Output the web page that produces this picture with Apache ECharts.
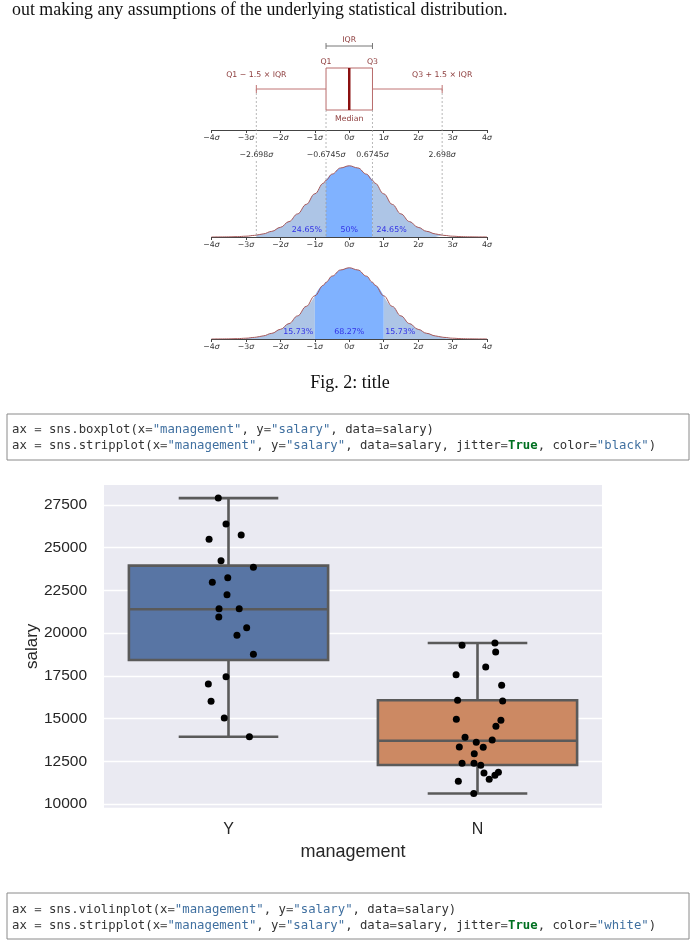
<!DOCTYPE html>
<html>
<head>
<meta charset="utf-8">
<script src="https://cdn.jsdelivr.net/npm/echarts@6/dist/echarts.min.js"></script>
<style>
  html, body { margin: 0; padding: 0; background: #fff; }
  #chart { width: 693px; height: 950px; }
</style>
</head>
<body>
<div id="chart"></div>
<script>
// ---- page text ----
var topText = 'out making any assumptions of the underlying statistical distribution.';
var captionText = 'Fig. 2: title';
var code1 = [
  'ax {o|=} sns.boxplot(x{o|=}{s|"management"}, y{o|=}{s|"salary"}, data{o|=}salary)',
  'ax {o|=} sns.stripplot(x{o|=}{s|"management"}, y{o|=}{s|"salary"}, data{o|=}salary, jitter{o|=}{k|True}, color{o|=}{s|"black"})'
];
var code2 = [
  'ax {o|=} sns.violinplot(x{o|=}{s|"management"}, y{o|=}{s|"salary"}, data{o|=}salary)',
  'ax {o|=} sns.stripplot(x{o|=}{s|"management"}, y{o|=}{s|"salary"}, data{o|=}salary, jitter{o|=}{k|True}, color{o|=}{s|"white"})'
];

// ---- schematic (x in sigma) ----
// whisker low, Q1, median, Q3, whisker high
var sigmaBox = [-2.698, -0.6745, 0, 0.6745, 2.698];
var guideLabels = ['\u22122.698', '\u22120.6745', '0.6745', '2.698'];
// bell curve
var curveX = [-4, -3.75, -3.5, -3.25, -3, -2.75, -2.698, -2.5, -2.25, -2, -1.75, -1.5, -1.25, -1, -0.75, -0.6745, -0.5, -0.25,
  0, 0.25, 0.5, 0.6745, 0.75, 1, 1.25, 1.5, 1.75, 2, 2.25, 2.5, 2.698, 2.75, 3, 3.25, 3.5, 3.75, 4];
var curveY = [0.0001, 0.0004, 0.0009, 0.0020, 0.0044, 0.0091, 0.0105, 0.0175, 0.0317, 0.0540, 0.0863, 0.1295, 0.1826, 0.2420, 0.3011, 0.3178, 0.3521, 0.3867,
  0.3989, 0.3867, 0.3521, 0.3178, 0.3011, 0.2420, 0.1826, 0.1295, 0.0863, 0.0540, 0.0317, 0.0175, 0.0105, 0.0091, 0.0044, 0.0020, 0.0009, 0.0004, 0.0001];
var band2Outer = [-2.698, 2.698], band2Inner = [-0.6745, 0.6745];
var band3Outer = [-3, 3], band3Inner = [-1, 1];
var pct2 = ['24.65%', '50%', '24.65%'], pct2X = [-1.23, 0, 1.23];
var pct3 = ['15.73%', '68.27%', '15.73%'], pct3X = [-1.48, 0, 1.48];

// ---- salary box plot ----
var categories = ['Y', 'N'];
// min, q1, median, q3, max
var boxY = [13939, 18428, 21395, 23947, 27900];
var boxN = [10610, 12283, 13705, 16069, 19420];
var yTicks = [10000, 12500, 15000, 17500, 20000, 22500, 25000, 27500];
var salaryY = [27900, 26388, 25492, 25744, 24240, 23853, 23245, 22975, 22250, 21430, 21430, 20945, 20318, 19873, 18761, 17451, 17023, 16011, 15033, 13939];
var jitterY = [-0.041, -0.010, -0.078, 0.051, -0.030, 0.100, -0.003, -0.065, -0.006, -0.038, 0.043, -0.039, 0.073, 0.034, 0.100, -0.010, -0.081, -0.070, -0.017, 0.084];
var salaryN = [19288, 19420, 18896, 18018, 17568, 16947, 16069, 16028, 14957, 14899, 14548, 13904, 13746, 13611, 13336, 13318, 12944, 12382, 12382, 12265, 11814, 11855, 11680, 11446, 11329, 10610];
var jitterN = [-0.062, 0.070, 0.073, 0.033, -0.086, 0.097, -0.080, 0.101, -0.085, 0.094, 0.074, -0.050, 0.059, -0.005, -0.073, 0.023, -0.013, -0.062, -0.014, 0.013, 0.026, 0.084, 0.070, 0.047, -0.077, -0.015];

var RED = '#8c3b3b';
var SMALL = 'DejaVu Sans';
var SANS = 'Liberation Sans';

function sigmaAxis(gi) {
  return {
    type: 'value', gridIndex: gi, min: -4, max: 4, interval: 1,
    axisLine: { show: true, onZero: false, lineStyle: { color: '#444', width: 1 } },
    axisTick: { show: true, length: 3, lineStyle: { color: '#444' } },
    splitLine: { show: false },
    axisLabel: {
      margin: 4, fontSize: 7.8, fontFamily: SMALL, color: '#333',
      formatter: function (v) { return (v < 0 ? '\u2212' : '') + Math.abs(v) + '{s|σ}'; },
      rich: { s: { fontStyle: 'italic', fontSize: 7.8, fontFamily: SMALL, color: '#333' } }
    }
  };
}

function pick(lo, hi) {
  var out = [];
  for (var i = 0; i < curveX.length; i++) {
    if (curveX[i] >= lo - 1e-9 && curveX[i] <= hi + 1e-9) out.push([curveX[i], curveY[i]]);
  }
  return out;
}
function areaSeries(idx, lo, hi, color) {
  return {
    type: 'line', xAxisIndex: idx, yAxisIndex: idx, data: pick(lo, hi),
    smooth: 0.4, smoothMonotone: 'x', symbol: 'none', silent: true,
    lineStyle: { width: 0 }, areaStyle: { color: color, opacity: 1 }, z: 1
  };
}
function outlineSeries(idx) {
  return {
    type: 'line', xAxisIndex: idx, yAxisIndex: idx, data: pick(-4, 4),
    smooth: 0.4, smoothMonotone: 'x', symbol: 'none', silent: true,
    lineStyle: { width: 1, color: '#a5585a' }, z: 3
  };
}
function txt(x, y, text, opt) {
  opt = opt || {};
  var col = opt.color || RED, size = opt.size || 7.8;
  return {
    type: 'text',
    style: {
      x: x, y: y, text: text,
      fill: col, fontSize: size, fontFamily: SMALL,
      align: 'center', verticalAlign: 'middle', textAlign: 'center', textVerticalAlign: 'middle',
      backgroundColor: opt.bg, padding: opt.bg ? [0, 1] : 0,
      rich: { s: { fontStyle: 'italic', fontSize: size, fontFamily: SMALL, fill: col } }
    }
  };
}
function pctSeries(idx, labels, xs) {
  return {
    type: 'custom', xAxisIndex: idx, yAxisIndex: idx, silent: true, z: 5,
    data: xs.map(function (x, i) { return [x, 0, i]; }),
    encode: { x: 0, y: 1 },
    renderItem: function (params, api) {
      var p = api.coord([api.value(0), 0]);
      return txt(p[0], p[1] - 7.5, labels[api.value(2)], { color: '#2f2fe6', size: 7.9 });
    }
  };
}
function codeBlock(top, lines, first) {
  var mono = 'DejaVu Sans Mono', fs = 12.3;
  var rich = {
    s: { fill: '#4070a0', fontFamily: mono, fontSize: fs },
    k: { fill: '#007020', fontWeight: 'bold', fontFamily: mono, fontSize: fs },
    o: { fill: '#666666', fontFamily: mono, fontSize: fs }
  };
  return {
    type: 'group', x: 7, y: top,
    children: [
      { type: 'rect', shape: { x: 0, y: 0, width: 682, height: 46 }, style: { fill: '#fff', stroke: '#8a8a8a', lineWidth: 1 } },
      { type: 'text', x: 5, y: first, style: { text: lines[0], fontFamily: mono, fontSize: fs, fill: '#333', verticalAlign: 'middle', rich: rich } },
      { type: 'text', x: 5, y: first + 16, style: { text: lines[1], fontFamily: mono, fontSize: fs, fill: '#333', verticalAlign: 'middle', rich: rich } }
    ]
  };
}

var chart = echarts.init(document.getElementById('chart'));

chart.setOption({
  animation: false,
  backgroundColor: '#fff',
  grid: [
    { left: 211.5, right: 206, top: 48, height: 82 },
    { left: 211.5, right: 206, top: 162, height: 75 },
    { left: 211.5, right: 206, top: 264, height: 75 },
    { left: 104, width: 498, top: 485, bottom: 142.3, show: true, backgroundColor: '#eaeaf2', borderWidth: 0 }
  ],
  xAxis: [
    sigmaAxis(0), sigmaAxis(1), sigmaAxis(2),
    {
      type: 'category', gridIndex: 3, data: categories,
      axisLine: { show: false }, axisTick: { show: false },
      axisLabel: { fontSize: 16, fontFamily: SANS, color: '#262626', margin: 14 },
      name: 'management', nameLocation: 'middle', nameGap: 35,
      nameTextStyle: { fontSize: 18, fontFamily: SANS, color: '#262626' }
    },
    { type: 'value', gridIndex: 3, min: -0.5, max: 1.5, show: false }
  ],
  yAxis: [
    { type: 'category', gridIndex: 0, data: ['box'], show: false },
    { type: 'value', gridIndex: 1, min: 0, max: 0.42, show: false },
    { type: 'value', gridIndex: 2, min: 0, max: 0.42, show: false },
    {
      type: 'value', gridIndex: 3, min: 9783, max: 28666,
      axisLine: { show: false },
      axisTick: { show: false, customValues: yTicks },
      axisLabel: {
        customValues: yTicks, fontSize: 15.5, fontFamily: SANS, color: '#262626', margin: 17,
        formatter: function (v) { return String(v); }
      },
      splitLine: { show: true, lineStyle: { color: '#ffffff', width: 1.3 } },
      name: 'salary', nameLocation: 'middle', nameGap: 63, nameRotate: 90, nameMoveOverlap: false,
      nameTextStyle: { fontSize: 17, fontFamily: SANS, color: '#262626' }
    }
  ],
  series: [
    // schematic box with guides
    {
      type: 'custom', xAxisIndex: 0, yAxisIndex: 0, silent: true, z: 4,
      data: [[0].concat(sigmaBox)],
      encode: { y: 0, x: [1, 2, 3, 4, 5] },
      renderItem: function (params, api) {
        var yc = api.coord([0, 0])[1];
        var xs = [1, 2, 3, 4, 5].map(function (d) { return api.coord([api.value(d), 0])[0]; });
        var h = 21;
        var wl = { stroke: '#c07474', lineWidth: 1 };
        var guide = { stroke: '#9a9a9a', lineWidth: 0.7, lineDash: [2, 2] };
        var ch = [
          { type: 'line', shape: { x1: xs[0], y1: yc, x2: xs[0], y2: yc + 148 }, style: guide },
          { type: 'line', shape: { x1: xs[4], y1: yc, x2: xs[4], y2: yc + 148 }, style: guide },
          { type: 'line', shape: { x1: xs[1], y1: yc + h, x2: xs[1], y2: yc + 148 }, style: guide },
          { type: 'line', shape: { x1: xs[3], y1: yc + h, x2: xs[3], y2: yc + 148 }, style: guide },
          { type: 'line', shape: { x1: xs[0], y1: yc, x2: xs[1], y2: yc }, style: wl },
          { type: 'line', shape: { x1: xs[3], y1: yc, x2: xs[4], y2: yc }, style: wl },
          { type: 'line', shape: { x1: xs[0], y1: yc - 4, x2: xs[0], y2: yc + 4 }, style: wl },
          { type: 'line', shape: { x1: xs[4], y1: yc - 4, x2: xs[4], y2: yc + 4 }, style: wl },
          { type: 'rect', shape: { x: xs[1], y: yc - h, width: xs[3] - xs[1], height: 2 * h }, style: { fill: '#fff', stroke: '#b86a6a', lineWidth: 1 } },
          { type: 'line', shape: { x1: xs[2], y1: yc - h, x2: xs[2], y2: yc + h }, style: { stroke: '#8b1010', lineWidth: 2.5 } },
          // IQR bracket
          { type: 'line', shape: { x1: xs[1], y1: yc - 43, x2: xs[3], y2: yc - 43 }, style: { stroke: '#777', lineWidth: 1 } },
          { type: 'line', shape: { x1: xs[1], y1: yc - 46, x2: xs[1], y2: yc - 40 }, style: { stroke: '#777', lineWidth: 1 } },
          { type: 'line', shape: { x1: xs[3], y1: yc - 46, x2: xs[3], y2: yc - 40 }, style: { stroke: '#777', lineWidth: 1 } },
          txt(xs[2], yc - 49, 'IQR'),
          txt(xs[1], yc - 27, 'Q1'),
          txt(xs[3], yc - 27, 'Q3'),
          txt(xs[0], yc - 14, 'Q1 \u2212 1.5 \u00d7 IQR'),
          txt(xs[4], yc - 14, 'Q3 + 1.5 \u00d7 IQR'),
          txt(xs[2], yc + 30, 'Median')
        ];
        [0, 1, 3, 4].forEach(function (d, i) {
          ch.push(txt(xs[d], yc + 66, guideLabels[i] + '{s|σ}', { color: '#333', bg: '#fff' }));
        });
        return { type: 'group', children: ch };
      }
    },
    areaSeries(1, band2Outer[0], band2Inner[0], '#adc5e6'),
    areaSeries(1, band2Inner[1], band2Outer[1], '#adc5e6'),
    areaSeries(1, band2Inner[0], band2Inner[1], '#80b2ff'),
    outlineSeries(1),
    pctSeries(1, pct2, pct2X),
    areaSeries(2, band3Outer[0], band3Inner[0], '#adc5e6'),
    areaSeries(2, band3Inner[1], band3Outer[1], '#adc5e6'),
    areaSeries(2, band3Inner[0], band3Inner[1], '#80b2ff'),
    outlineSeries(2),
    pctSeries(2, pct3, pct3X),
    // salary boxes
    {
      type: 'custom', xAxisIndex: 3, yAxisIndex: 3, silent: true, z: 2,
      data: [[0].concat(boxY), [1].concat(boxN)],
      encode: { x: 0, y: [1, 2, 3, 4, 5] },
      renderItem: function (params, api) {
        var c = api.value(0);
        var x = api.coord([c, 0])[0];
        var ys = [1, 2, 3, 4, 5].map(function (d) { return api.coord([c, api.value(d)])[1]; });
        var band = api.size([1, 0])[0];
        var hb = band * 0.4, hc = hb * 0.5;
        var edge = { stroke: '#5a5a5a', lineWidth: 2.6 };
        var fill = c === 0 ? '#5875a4' : '#cc8963';
        return {
          type: 'group',
          children: [
            { type: 'line', shape: { x1: x, y1: ys[4], x2: x, y2: ys[3] }, style: edge },
            { type: 'line', shape: { x1: x, y1: ys[1], x2: x, y2: ys[0] }, style: edge },
            { type: 'line', shape: { x1: x - hc, y1: ys[4], x2: x + hc, y2: ys[4] }, style: edge },
            { type: 'line', shape: { x1: x - hc, y1: ys[0], x2: x + hc, y2: ys[0] }, style: edge },
            { type: 'rect', shape: { x: x - hb, y: ys[3], width: 2 * hb, height: ys[1] - ys[3] }, style: { fill: fill, stroke: '#5a5a5a', lineWidth: 2.6 } },
            { type: 'line', shape: { x1: x - hb, y1: ys[2], x2: x + hb, y2: ys[2] }, style: edge }
          ]
        };
      }
    },
    {
      type: 'scatter', xAxisIndex: 4, yAxisIndex: 3, silent: true, z: 3,
      symbolSize: 7, itemStyle: { color: '#000', opacity: 1 },
      data: salaryY.map(function (v, i) { return [0 + jitterY[i], v]; })
        .concat(salaryN.map(function (v, i) { return [1 + jitterN[i], v]; }))
    }
  ],
  graphic: [
    { type: 'text', x: 12, y: 10, style: { text: topText, fontSize: 17.9, fontFamily: 'Liberation Serif', fill: '#111', verticalAlign: 'middle' } },
    { type: 'text', x: 350, y: 383, style: { text: captionText, fontSize: 18, fontFamily: 'Liberation Serif', fill: '#111', align: 'center', verticalAlign: 'middle' } },
    codeBlock(414, code1, 16),
    codeBlock(893, code2, 17)
  ]
});
</script>
</body>
</html>
